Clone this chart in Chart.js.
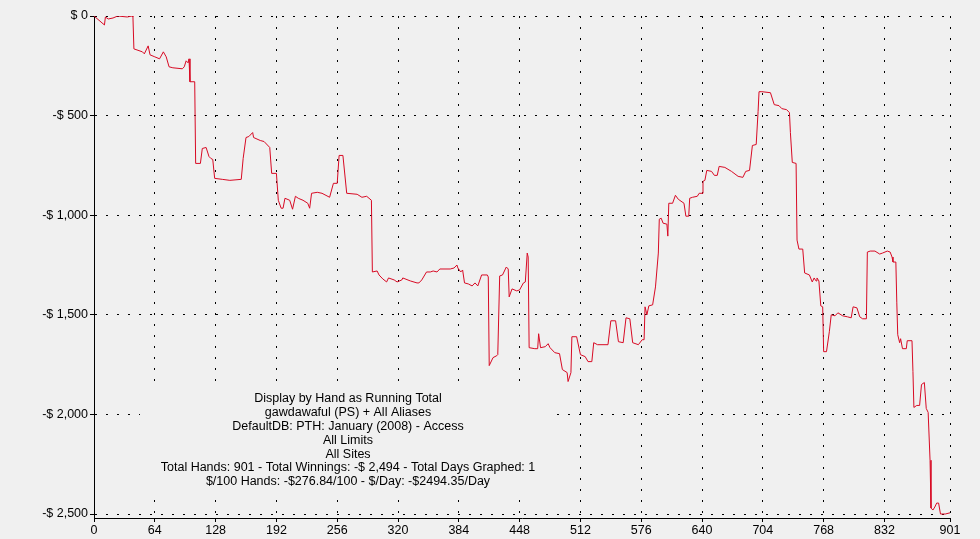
<!DOCTYPE html>
<html>
<head>
<meta charset="utf-8">
<script src="https://cdn.jsdelivr.net/npm/chart.js@4/dist/chart.umd.min.js"></script>
<style>
  html, body { margin: 0; padding: 0; background: #f0f0f0; }
  #wrap { width: 980px; height: 539px; }
</style>
</head>
<body>
<div id="wrap"><canvas id="graph" width="980" height="539"></canvas></div>
<script>
// running total (hand number, dollars)
const hands = [
    0, 11, 12, 15, 20, 25, 35, 40, 41, 42,
    51, 53, 57, 59, 64, 69, 73, 76, 79, 83,
    93, 95, 97, 99, 100, 101, 106, 107, 112, 114,
    118, 121, 123, 125, 127, 135, 143, 155, 157, 160,
    163, 167, 168, 175, 179, 185, 187, 192, 194, 197,
    199, 201, 206, 209, 212, 215, 220, 225, 227, 229,
    235, 240, 248, 252, 256, 258, 262, 266, 277, 282,
    287, 292, 293, 298, 300, 304, 308, 310, 316, 319,
    324, 325, 333, 340, 342, 345, 350, 354, 357, 361,
    364, 375, 379, 382, 383, 386, 388, 390, 394, 398,
    401, 404, 408, 414, 415, 416, 420, 424, 425, 427,
    430, 434, 436, 437, 440, 445, 448, 452, 454, 456,
    457, 458, 464, 467, 468, 470, 475, 478, 480, 485,
    490, 493, 498, 499, 502, 503, 508, 512, 517, 520,
    524, 526, 530, 541, 544, 549, 552, 557, 560, 564,
    567, 573, 577, 579, 580, 582, 584, 588, 591, 594,
    595, 597, 599, 603, 604, 605, 609, 612, 615, 621,
    623, 626, 627, 630, 635, 637, 640, 641, 643, 645,
    650, 653, 656, 658, 664, 671, 678, 683, 686, 690,
    693, 697, 699, 700, 703, 712, 716, 721, 724, 729,
    732, 733, 735, 739, 740, 742, 746, 748, 753, 756,
    758, 760, 761, 763, 765, 767, 768, 771, 774, 776,
    780, 783, 788, 793, 797, 799, 803, 806, 809, 813,
    814, 817, 822, 827, 830, 835, 838, 840, 841, 844,
    845, 846, 848, 849, 851, 855, 856, 861, 862, 863,
    866, 869, 871, 874, 876, 878, 880, 881, 883, 885,
    887, 889, 891, 896, 901
];
const winnings = [
    0, -45, -5, -15, -10, 0, -5, 0, -5, -165,
    -180, -190, -150, -195, -205, -215, -180, -205, -255, -260,
    -265, -255, -225, -235, -215, -330, -330, -740, -740, -665,
    -660, -705, -715, -720, -815, -820, -825, -820, -715, -610,
    -605, -585, -610, -625, -630, -660, -790, -790, -925, -965,
    -965, -915, -925, -970, -905, -915, -925, -940, -965, -890,
    -885, -890, -910, -840, -840, -700, -700, -890, -895, -910,
    -905, -925, -1285, -1280, -1300, -1320, -1335, -1315, -1325, -1335,
    -1325, -1315, -1330, -1340, -1340, -1325, -1285, -1285, -1280, -1285,
    -1270, -1270, -1265, -1250, -1265, -1285, -1275, -1340, -1345, -1355,
    -1340, -1355, -1300, -1300, -1310, -1755, -1715, -1705, -1700, -1305,
    -1300, -1260, -1270, -1410, -1370, -1380, -1375, -1340, -1335, -1190,
    -1210, -1665, -1670, -1670, -1595, -1665, -1660, -1645, -1665, -1690,
    -1695, -1775, -1790, -1835, -1790, -1610, -1610, -1700, -1710, -1735,
    -1735, -1640, -1650, -1650, -1530, -1530, -1635, -1640, -1515, -1520,
    -1640, -1650, -1625, -1625, -1460, -1500, -1455, -1450, -1360, -1190,
    -1020, -1015, -1040, -1045, -1105, -940, -940, -900, -920, -940,
    -1005, -1005, -915, -910, -905, -890, -890, -830, -825, -775,
    -780, -800, -800, -755, -760, -780, -805, -810, -780, -775,
    -650, -645, -480, -380, -380, -385, -445, -450, -465, -470,
    -485, -585, -735, -740, -1125, -1170, -1170, -1290, -1300, -1335,
    -1315, -1330, -1315, -1330, -1455, -1460, -1685, -1685, -1585, -1500,
    -1505, -1490, -1505, -1510, -1515, -1460, -1465, -1510, -1520, -1520,
    -1185, -1180, -1180, -1195, -1190, -1180, -1185, -1210, -1235, -1235,
    -1440, -1600, -1640, -1620, -1670, -1670, -1630, -1630, -1785, -1965,
    -1955, -1955, -1850, -1840, -1970, -1990, -2230, -2470, -2480, -2465,
    -2445, -2445, -2500, -2500, -2494
];

const xTicks = [0, 64, 128, 192, 256, 320, 384, 448, 512, 576, 640, 704, 768, 832, 901];
const yTicks = [0, -500, -1000, -1500, -2000, -2500];

const infoLines = [
    'Display by Hand as Running Total',
    'gawdawaful (PS) + All Aliases',
    'DefaultDB: PTH: January (2008) - Access',
    'All Limits',
    'All Sites',
    'Total Hands: 901 - Total Winnings: -$ 2,494 - Total Days Graphed: 1',
    '$/100 Hands: -$276.84/100 - $/Day: -$2494.35/Day'
];

const FONT = '"Liberation Sans", Arial, sans-serif';
const BG = '#f0f0f0';

// info box sits on top of the grid, under the line
const infoBox = {
    id: 'infoBox',
    beforeDatasetsDraw(chart) {
        const ctx = chart.ctx;
        ctx.save();
        ctx.fillStyle = BG;
        ctx.fillRect(140, 381, 415, 116);
        ctx.fillStyle = '#000';
        ctx.font = '12.5px ' + FONT;
        ctx.textAlign = 'center';
        ctx.textBaseline = 'middle';
        infoLines.forEach((line, i) => {
            ctx.fillText(line, 348, 399 + i * 13.8);
        });
        ctx.restore();
    }
};

const bgFill = {
    id: 'bgFill',
    beforeDraw(chart) {
        const ctx = chart.ctx;
        ctx.save();
        ctx.fillStyle = BG;
        ctx.fillRect(0, 0, chart.width, chart.height);
        ctx.restore();
    }
};

function money(v) {
    if (v === 0) return '$ 0';
    return (v < 0 ? '-$ ' : '$ ') + Math.abs(v).toLocaleString('en-US');
}

const ctx = document.getElementById('graph').getContext('2d');
new Chart(ctx, {
    type: 'line',
    data: {
        datasets: [{
            data: hands.map((h, i) => ({ x: h, y: winnings[i] })),
            borderColor: '#d80a24',
            borderWidth: 1,
            pointRadius: 0,
            tension: 0,
            fill: false
        }]
    },
    options: {
        responsive: false,
        animation: false,
        layout: { padding: { top: 16, right: 30, left: 0, bottom: 0 } },
        plugins: {
            legend: { display: false },
            tooltip: { enabled: false }
        },
        scales: {
            x: {
                type: 'linear',
                min: 0,
                max: 901,
                afterBuildTicks: scale => { scale.ticks = xTicks.map(v => ({ value: v })); },
                afterFit: scale => { scale.height = 21; },
                grid: { color: '#000', lineWidth: 1, tickLength: 4, tickColor: '#000' },
                border: { display: true, color: '#000', width: 1, dash: [2, 9] },
                ticks: { color: '#000', font: { family: FONT, size: 12.5 }, padding: 1, maxRotation: 0 }
            },
            y: {
                min: -2520,
                max: 0,
                afterBuildTicks: scale => { scale.ticks = yTicks.map(v => ({ value: v })); },
                afterFit: scale => { scale.width = 94; },
                grid: { color: '#000', lineWidth: 1, tickLength: 4, tickColor: '#000' },
                border: { display: true, color: '#000', width: 1, dash: [2, 9] },
                ticks: { color: '#000', font: { family: FONT, size: 12.5 }, padding: 2, callback: money }
            }
        }
    },
    plugins: [bgFill, infoBox]
});
</script>
</body>
</html>
